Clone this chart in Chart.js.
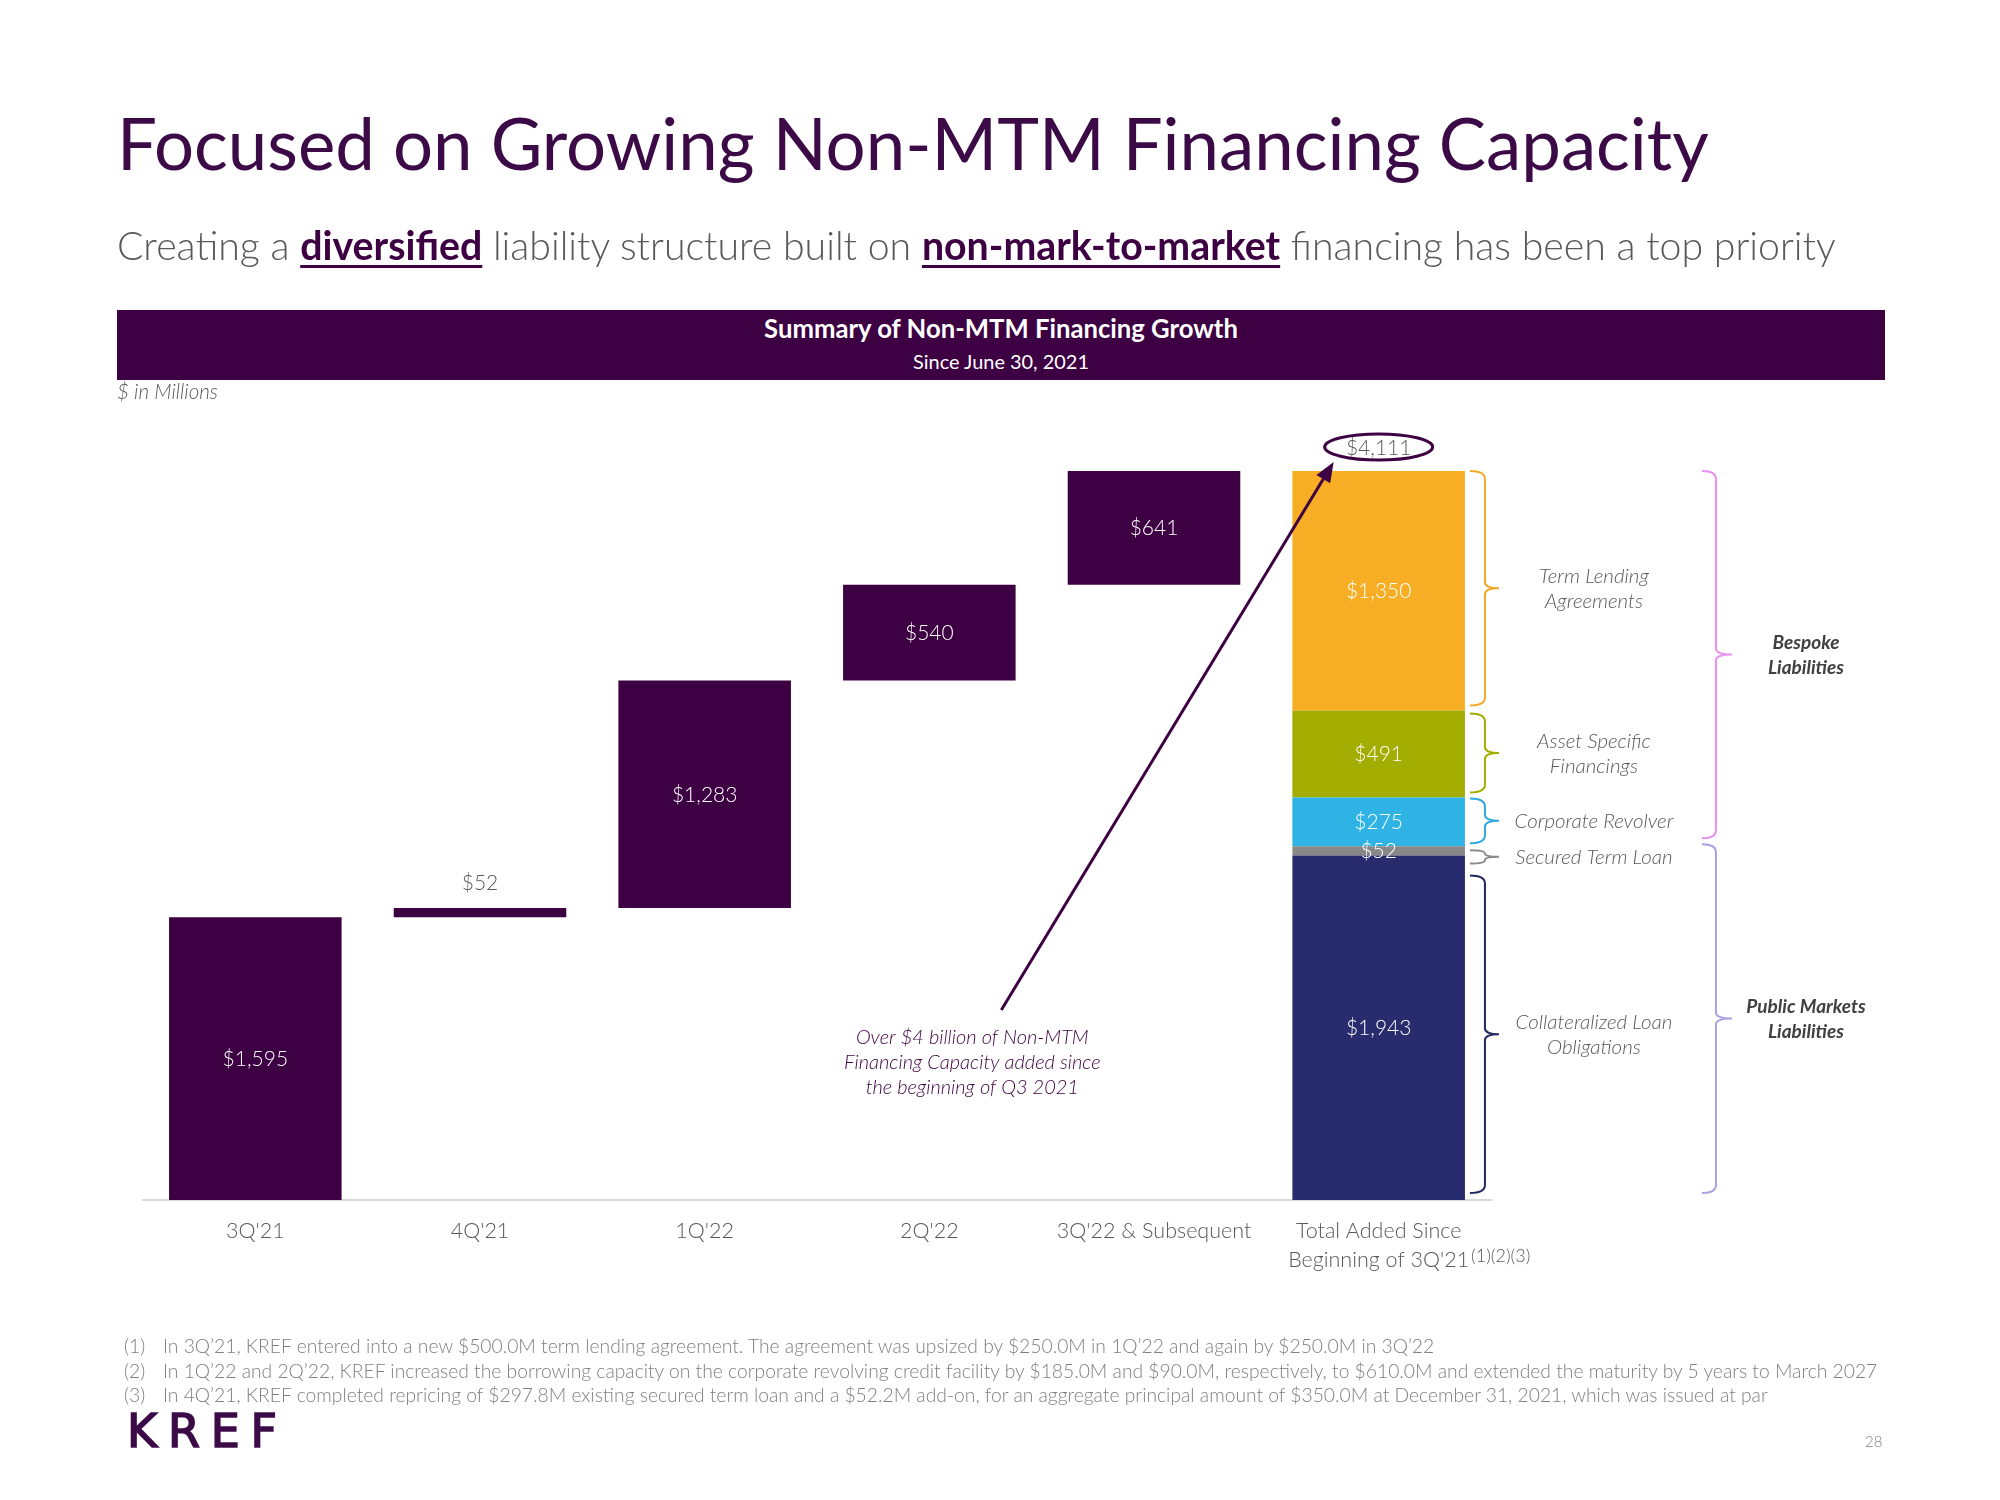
<!DOCTYPE html>
<html>
<head>
<meta charset="utf-8">
<script src="https://cdn.jsdelivr.net/npm/chart.js@4.4.1/dist/chart.umd.min.js"></script>
<style>
  html, body { margin:0; padding:0; background:#ffffff; }
  body { width:2000px; height:1500px; position:relative; overflow:hidden; font-family: Lato, 'Open Sans', sans-serif; }
  #chart { position:absolute; left:0; top:0; }
  .t { position:absolute; white-space:nowrap; line-height:normal; margin:0; }
  #title { color:#3B0A47; font-size:72px; font-weight:400; }
  #subtitle { color:#595959; font-size:40px; font-weight:300; }
  #subtitle b { color:#3D0042; font-weight:700; text-decoration: underline; text-decoration-thickness: 3px; text-underline-offset: 5px; }
  #banner { position:absolute; left:117px; top:310px; width:1768px; height:70px; background:#3D0042; }
  #bannerTitle { color:#ffffff; font-weight:700; font-size:24px; }
  #bannerSub { color:#ffffff; font-weight:400; font-size:19px; }
  #units { color:#595959; font-style:italic; font-weight:300; font-size:19px; }
  .fn { color:#7F7F7F; font-weight:300; font-size:18px; }
  #logo { color:#3B0A47; font-family:'DejaVu Sans', sans-serif; font-weight:400; font-size:46px; letter-spacing:0px; -webkit-text-stroke: 1.6px #3B0A47; }
  #page { color:#7F7F7F; font-size:15px; font-weight:300; }
</style>
</head>
<body>
<canvas id="chart" width="2000" height="1500"></canvas>
<div id="banner"></div>
<div class="t" id="title">Focused on Growing Non-MTM Financing Capacity</div>
<div class="t" id="subtitle">Creating a <b>diversified</b> liability structure built on <b>non-mark-to-market</b> financing has been a top priority</div>
<div class="t" id="bannerTitle">Summary of Non-MTM Financing Growth</div>
<div class="t" id="bannerSub">Since June 30, 2021</div>
<div class="t" id="units">$ in Millions</div>
<div class="t fn" id="fm1">(1)</div><div class="t fn" id="fn1"></div>
<div class="t fn" id="fm2">(2)</div><div class="t fn" id="fn2"></div>
<div class="t fn" id="fm3">(3)</div><div class="t fn" id="fn3"></div>
<div class="t" id="logo">KREF</div>
<div class="t" id="page">28</div>
<script>
// ---------------- DATA ----------------
const categories = [["3Q'21"], ["4Q'21"], ["1Q'22"], ["2Q'22"], ["3Q'22 & Subsequent"], ["Total Added Since", "Beginning of 3Q'21"]];
const totalFootnoteRefs = "(1)(2)(3)";
const quarterlyAdds = [1595, 52, 1283, 540, 641];
const totalSegmentNames = ["Collateralized Loan Obligations", "Secured Term Loan", "Corporate Revolver", "Asset Specific Financings", "Term Lending Agreements"];
const totalSegmentValues = [1943, 52, 275, 491, 1350];
const braceLabels = [["Collateralized Loan", "Obligations"], ["Secured Term Loan"], ["Corporate Revolver"], ["Asset Specific", "Financings"], ["Term Lending", "Agreements"]];
const groupLabels = [["Public Markets", "Liabilities"], ["Bespoke", "Liabilities"]];
const groupMembers = [[0, 1], [2, 3, 4]];
const annotationLines = ["Over $4 billion of Non-MTM", "Financing Capacity added since", "the beginning of Q3 2021"];
const footnotes = [
  "In 3Q\u201921, KREF entered into a new $500.0M term lending agreement. The agreement was upsized by $250.0M in 1Q\u201922 and again by $250.0M in 3Q\u201922",
  "In 1Q\u201922 and 2Q\u201922, KREF increased the borrowing capacity on the corporate revolving credit facility by $185.0M and $90.0M, respectively, to $610.0M and extended the maturity by 5 years to March 2027",
  "In 4Q\u201921, KREF completed repricing of $297.8M existing secured term loan and a $52.2M add-on, for an aggregate principal amount of $350.0M at December 31, 2021, which was issued at par"
];

// ---------------- STYLES ----------------
const waterfallColor = "#3D0042";
const segmentColors = ["#282C6E", "#888888", "#2FB3E5", "#A3AD00", "#F8AE24"];
const braceColors = ["#23285E", "#8A8A8A", "#2FA9E0", "#A3AD00", "#F4A92A"];
const braceInsets = [[20, 7], [4, -8], [1, 3], [3, 5], [0, 5]];
const groupBraceColors = ["#A9A2E2", "#E890EE"];
const groupInsets = [[-2, 7], [0, 8]];
const LABEL_FONT = "300 21px Lato";
const BRACE_FONT = "italic 300 20.5px Lato";
const GROUP_FONT = "italic 700 19px Lato";
const NOTE_FONT = "italic 300 20px Lato";
const fmt = v => "$" + v.toLocaleString("en-US");

// ---------------- DERIVED DATASETS ----------------
const lastIdx = categories.length - 1;
let run = 0;
const waterfallData = categories.map((_, i) => {
  if (i < quarterlyAdds.length) { const s = run; run += quarterlyAdds[i]; return [s, run]; }
  return null;
});
let acc = 0;
const segRanges = [];
const segDatasets = totalSegmentValues.map((v, k) => {
  const s = acc; acc += v; segRanges.push([s, acc]);
  return {
    label: totalSegmentNames[k],
    data: categories.map((_, i) => (i === lastIdx ? [s, acc] : null)),
    backgroundColor: segmentColors[k],
    grouped: false, barPercentage: 0.768, categoryPercentage: 1
  };
});
const totalValue = acc;

// ---------------- HELPERS ----------------
function drawBrace(ctx, xl, yt, yb, ym, w, tip, color, lw) {
  const r = Math.min(8, (yb - yt) / 4);
  const r2 = Math.min(6, (yb - yt) / 4);
  ctx.beginPath();
  ctx.moveTo(xl, yt);
  ctx.quadraticCurveTo(xl + w, yt, xl + w, yt + r);
  ctx.lineTo(xl + w, ym - r2);
  ctx.quadraticCurveTo(xl + w, ym, xl + w + tip, ym);
  ctx.quadraticCurveTo(xl + w, ym, xl + w, ym + r2);
  ctx.lineTo(xl + w, yb - r);
  ctx.quadraticCurveTo(xl + w, yb, xl, yb);
  ctx.strokeStyle = color; ctx.lineWidth = lw; ctx.stroke();
}
function centerText(ctx, txt, cx, cy, font, color) {
  ctx.font = font; ctx.fillStyle = color; ctx.textAlign = "center"; ctx.textBaseline = "alphabetic";
  const fs = parseFloat(font.match(/(\d+(\.\d+)?)px/)[1]);
  ctx.fillText(txt, cx, cy + fs * 0.36);
}

const annotate = {
  id: "annotate",
  afterDraw(chart) {
    const { ctx, chartArea, scales: { x, y } } = chart;
    ctx.save();
    // waterfall labels
    const wMeta = chart.getDatasetMeta(0);
    quarterlyAdds.forEach((v, i) => {
      const b = wMeta.data[i];
      const top = Math.min(b.y, b.base), bot = Math.max(b.y, b.base);
      if (bot - top < 30) centerText(ctx, fmt(v), b.x, top - 25, LABEL_FONT, "#595959");
      else centerText(ctx, fmt(v), b.x, (top + bot) / 2, LABEL_FONT, "#ffffff");
    });
    // total segment labels
    let barRight = 0, barX = 0;
    totalSegmentValues.forEach((v, k) => {
      const b = chart.getDatasetMeta(k + 1).data[lastIdx];
      barRight = b.x + b.width / 2; barX = b.x;
      centerText(ctx, fmt(v), b.x, (b.y + b.base) / 2, LABEL_FONT, "#ffffff");
    });
    // segment braces
    segRanges.forEach((r, k) => {
      const yt = y.getPixelForValue(r[1]) + braceInsets[k][0];
      const yb = y.getPixelForValue(r[0]) - braceInsets[k][1];
      const ym = (yt + yb) / 2;
      drawBrace(ctx, barRight + 5, yt, yb, ym, 15, 14, braceColors[k], 2);
      const lines = braceLabels[k];
      lines.forEach((ln, j) => {
        centerText(ctx, ln, barRight + 129, ym + (j - (lines.length - 1) / 2) * 25, BRACE_FONT, "#595959");
      });
    });
    // group braces
    groupMembers.forEach((mem, g) => {
      const lo = segRanges[mem[0]][0], hi = segRanges[mem[mem.length - 1]][1];
      const yt = y.getPixelForValue(hi) + groupInsets[g][0];
      const yb = y.getPixelForValue(lo) - groupInsets[g][1];
      const ym = (yt + yb) / 2;
      drawBrace(ctx, barRight + 237, yt, yb, ym, 14, 16, groupBraceColors[g], 2);
      const lines = groupLabels[g];
      lines.forEach((ln, j) => {
        centerText(ctx, ln, barRight + 341, ym + (j - (lines.length - 1) / 2) * 25, GROUP_FONT, "#404040");
      });
    });
    // total ellipse label
    const ey = y.getPixelForValue(totalValue) - 24;
    ctx.beginPath();
    ctx.ellipse(barX, ey, 54, 13, 0, 0, Math.PI * 2);
    ctx.strokeStyle = waterfallColor; ctx.lineWidth = 3; ctx.stroke();
    centerText(ctx, fmt(totalValue), barX, ey, LABEL_FONT, "#595959");
    // annotation text
    const ax = x.getPixelForValue(3) + 43;
    const ay = chartArea.bottom - 163;
    annotationLines.forEach((ln, j) => centerText(ctx, ln, ax, ay + j * 25, NOTE_FONT, waterfallColor));
    // arrow
    const sx = ax + 29, sy = ay - 27;
    const ex = barX - 45, ey2 = ey + 15;
    const ang = Math.atan2(ey2 - sy, ex - sx);
    const hl = 20, hw = 8;
    const bx = ex - hl * Math.cos(ang), by = ey2 - hl * Math.sin(ang);
    ctx.beginPath(); ctx.moveTo(sx, sy); ctx.lineTo(bx, by);
    ctx.strokeStyle = waterfallColor; ctx.lineWidth = 3; ctx.stroke();
    ctx.beginPath();
    ctx.moveTo(ex, ey2);
    ctx.lineTo(bx + hw * Math.sin(ang), by - hw * Math.cos(ang));
    ctx.lineTo(bx - hw * Math.sin(ang), by + hw * Math.cos(ang));
    ctx.closePath(); ctx.fillStyle = waterfallColor; ctx.fill();
    // footnote refs on the last tick label
    ctx.font = "300 21px Lato";
    const w2 = ctx.measureText(categories[lastIdx][1]).width;
    ctx.font = "300 18px Lato"; ctx.fillStyle = "#595959"; ctx.textAlign = "left"; ctx.textBaseline = "alphabetic";
    ctx.fillText(totalFootnoteRefs, x.getPixelForValue(lastIdx) + w2 / 2 + 4, chartArea.bottom + 62);
    ctx.restore();
  }
};

new Chart(document.getElementById("chart"), {
  type: "bar",
  data: {
    labels: categories,
    datasets: [
      { label: "Quarterly additions", data: waterfallData, backgroundColor: waterfallColor, grouped: false, barPercentage: 0.768, categoryPercentage: 1 },
      ...segDatasets
    ]
  },
  options: {
    responsive: false, animation: false, devicePixelRatio: 1,
    layout: { padding: { left: 143, right: 509, top: 402, bottom: 0 } },
    plugins: { legend: { display: false }, tooltip: { enabled: false } },
    scales: {
      x: {
        grid: { display: false, drawTicks: false },
        border: { display: true, color: "#D9D9D9", width: 2 },
        ticks: { color: "#595959", font: { family: "Lato", size: 21.5, weight: "300", lineHeight: 1.36 }, padding: 16, maxRotation: 0, autoSkip: false },
        afterFit: s => { s.height = 300; }
      },
      y: { display: false, min: 0, max: 4500 }
    }
  },
  plugins: [annotate]
});

// ---------------- TEXT LAYOUT ----------------
const mctx = document.createElement("canvas").getContext("2d");
function place(id, left, baseline, targetW, center) {
  const el = document.getElementById(id);
  if (targetW) {
    const w = el.getBoundingClientRect().width;
    const fs = parseFloat(getComputedStyle(el).fontSize);
    el.style.fontSize = (fs * targetW / w) + "px";
  }
  const cs = getComputedStyle(el);
  mctx.font = `${cs.fontStyle} ${cs.fontWeight} ${cs.fontSize} ${cs.fontFamily}`;
  const m = mctx.measureText("Hg");
  const w = el.getBoundingClientRect().width;
  el.style.left = (center ? left - w / 2 : left) + "px";
  el.style.top = (baseline - m.fontBoundingBoxAscent) + "px";
  return parseFloat(cs.fontSize);
}
document.getElementById("fn1").textContent = footnotes[0];
document.getElementById("fn2").textContent = footnotes[1];
document.getElementById("fn3").textContent = footnotes[2];
place("title", 117, 170, 1592);
place("subtitle", 117, 260, 1719);
place("bannerTitle", 1001, 338, 474, true);
place("bannerSub", 1001, 369, 176, true);
place("units", 117, 399, 101);
const fs = place("fn2", 163, 1378, 1716);
["fn1", "fn3", "fm1", "fm2", "fm3"].forEach(id => document.getElementById(id).style.fontSize = fs + "px");
place("fn1", 163, 1353); place("fn3", 163, 1402);
place("fm1", 124, 1353); place("fm2", 124, 1378); place("fm3", 124, 1402);
// logo: fixed size, spacing spread to the logo width
(function () {
  const el = document.getElementById("logo");
  const w = el.getBoundingClientRect().width;
  el.style.letterSpacing = Math.max(0, (150 - w) / 3) + "px";
})();
place("logo", 127, 1447);
place("page", 1865, 1447);
</script>
</body>
</html>
